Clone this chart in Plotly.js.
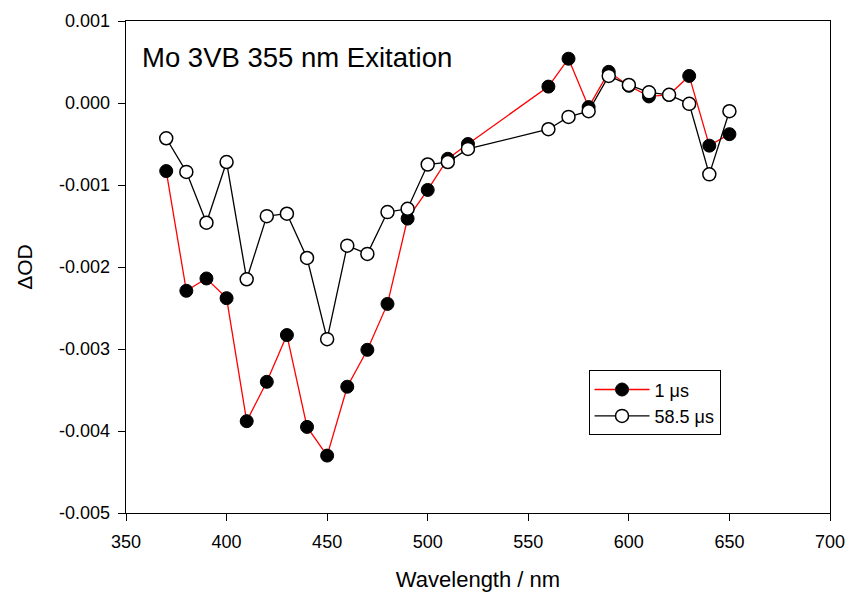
<!DOCTYPE html>
<html>
<head>
<meta charset="utf-8">
<script src="https://cdn.plot.ly/plotly-3.0.1.min.js"></script>
<style>html,body{margin:0;padding:0;background:#fff;}#chart{width:850px;height:597px;}</style>
</head>
<body>
<div id="chart"></div>
<script>
const wavelengths = [370, 380, 390, 400, 410, 420, 430, 440, 450, 460, 470, 480, 490, 500, 510, 520, 560, 570, 580, 590, 600, 610, 620, 630, 640, 650];
const od1us = [-0.00083, -0.00229, -0.00214, -0.00238, -0.00388, -0.0034, -0.00283, -0.00395, -0.0043, -0.00346, -0.00301, -0.00245, -0.00141, -0.00106, -0.00068, -0.0005, 0.0002, 0.00054, -0.00005, 0.00038, 0.00021, 0.00008, 0.0001, 0.00033, -0.00052, -0.00038];
const od58us = [-0.00043, -0.00084, -0.00146, -0.00072, -0.00215, -0.00138, -0.00135, -0.00189, -0.00288, -0.00174, -0.00184, -0.00133, -0.00129, -0.00075, -0.00072, -0.00056, -0.00032, -0.00017, -0.0001, 0.00033, 0.00022, 0.00013, 0.0001, -0.00001, -0.00087, -0.0001];
const xTicks = [350, 400, 450, 500, 550, 600, 650, 700];
const yTicks = [0.001, 0, -0.001, -0.002, -0.003, -0.004, -0.005];
const yTickText = ["0.001", "0.000", "-0.001", "-0.002", "-0.003", "-0.004", "-0.005"];
const seriesNames = ["1 \u03bcs", "58.5 \u03bcs"];
const annotationText = "Mo 3VB 355 nm Exitation";

const font = "Liberation Sans, Arial, sans-serif";

const traces = [
  {
    x: wavelengths, y: od1us, name: seriesNames[0], type: "scatter", mode: "lines+markers",
    line: {color: "#ff0000", width: 1.3},
    marker: {color: "#000000", size: 13, line: {color: "#000000", width: 1}}
  },
  {
    x: wavelengths, y: od58us, name: seriesNames[1], type: "scatter", mode: "lines+markers",
    line: {color: "#000000", width: 1.3},
    marker: {color: "#ffffff", size: 13, line: {color: "#000000", width: 1.5}}
  }
];

const layout = {
  width: 850, height: 597,
  margin: {l: 126, r: 20, t: 21, b: 84},
  paper_bgcolor: "#fff", plot_bgcolor: "#fff",
  font: {family: font, size: 18, color: "#000"},
  showlegend: true,
  legend: {
    x: 0.657, y: 0.29, xanchor: "left", yanchor: "top",
    bordercolor: "#000", borderwidth: 1, bgcolor: "#fff",
    font: {family: font, size: 18, color: "#000"},
    itemwidth: 55, tracegroupgap: 0
  },
  xaxis: {
    range: [350, 700], tickvals: xTicks, ticks: "outside", ticklen: 7, tickwidth: 1, tickcolor: "#000",
    showline: true, linecolor: "#000", linewidth: 1.3, mirror: true, showgrid: false, zeroline: false,
    tickfont: {family: font, size: 18}, ticklabelstandoff: 5,
    title: {text: "Wavelength / nm", font: {family: font, size: 22}, standoff: 20}
  },
  yaxis: {
    range: [-0.005, 0.001], tickvals: yTicks, ticktext: yTickText, ticks: "outside", ticklen: 7, tickwidth: 1, tickcolor: "#000",
    showline: true, linecolor: "#000", linewidth: 1.3, mirror: true, showgrid: false, zeroline: false,
    tickfont: {family: font, size: 18}, ticklabelstandoff: 4,
    title: {text: "\u0394OD", font: {family: font, size: 21}, standoff: 20}
  },
  annotations: [{
    xref: "paper", yref: "paper", x: 0.02, y: 0.925, xanchor: "left", yanchor: "middle",
    text: annotationText, showarrow: false, font: {family: font, size: 27.5, color: "#000"}
  }]
};

Plotly.newPlot("chart", traces, layout, {displayModeBar: false, staticPlot: true});
</script>
</body>
</html>
